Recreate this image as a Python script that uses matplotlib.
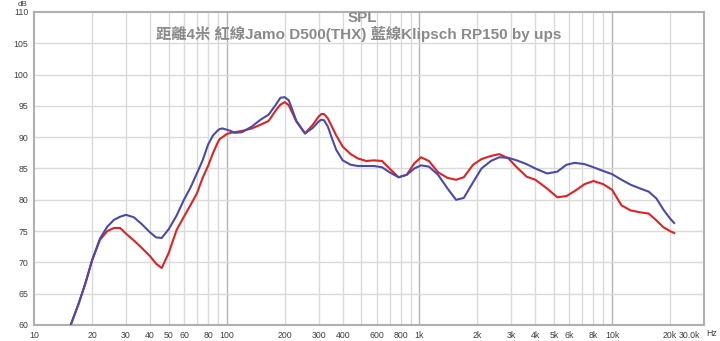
import matplotlib.pyplot as plt
import matplotlib.transforms as mtransforms

# frequency points (Hz)
freq = [15.5, 17, 18.5, 20, 22, 24, 26, 28, 30, 33, 36, 40, 43, 46, 50, 55, 60, 65, 70, 75,
        80, 85, 90, 92, 95, 100, 105, 110, 120, 135, 150, 165, 180, 190, 200, 210, 230, 255,
        280, 300, 310, 320, 335, 350, 370, 400, 440, 480, 530, 580, 640, 700, 780, 860, 940,
        1020, 1120, 1250, 1400, 1550, 1700, 1900, 2100, 2350, 2600, 2900, 3200, 3600, 4000,
        4600, 5200, 5800, 6400, 7200, 8000, 9000, 10000, 11200, 12500, 14000, 15500, 17000,
        18500, 20000, 21000]

# blue line: Klipsch RP150
klipsch = [60.0, 63.3, 66.7, 70.3, 73.8, 75.7, 76.8, 77.3, 77.6, 77.2, 76.2, 74.8, 74.0, 73.9,
           75.3, 77.5, 80.0, 82.0, 84.2, 86.3, 88.8, 90.3, 91.1, 91.3, 91.4, 91.2, 91.0, 90.7,
           90.8, 91.7, 92.8, 93.6, 95.2, 96.3, 96.4, 95.9, 92.6, 90.6, 91.5, 92.5, 92.8, 92.7,
           91.7, 90.0, 88.0, 86.3, 85.6, 85.4, 85.4, 85.4, 85.2, 84.4, 83.6, 84.0, 85.0, 85.5,
           85.3, 84.0, 81.8, 80.0, 80.3, 82.8, 85.0, 86.2, 86.8, 86.7, 86.3, 85.7, 85.0, 84.2,
           84.5, 85.6, 85.9, 85.7, 85.2, 84.6, 84.1, 83.2, 82.4, 81.8, 81.3, 80.2, 78.4, 77.0,
           76.3]

# red line: Jamo D500 (THX)
jamo = [60.0, 63.3, 66.7, 70.3, 73.6, 75.0, 75.5, 75.5, 74.6, 73.5, 72.4, 71.0, 69.8, 69.1,
        71.5, 75.2, 77.3, 79.2, 81.0, 83.5, 85.4, 87.5, 89.2, 89.7, 90.0, 90.5, 90.7, 90.8,
        91.0, 91.4, 92.0, 92.6, 94.3, 95.2, 95.6, 95.1, 92.5, 90.6, 92.0, 93.3, 93.7, 93.7,
        93.0, 91.8, 90.3, 88.5, 87.3, 86.6, 86.2, 86.3, 86.2, 85.0, 83.6, 84.0, 85.8, 86.8,
        86.2, 84.4, 83.5, 83.2, 83.6, 85.6, 86.5, 87.0, 87.3, 86.6, 85.2, 83.7, 83.2, 81.8,
        80.4, 80.6, 81.4, 82.5, 83.0, 82.5, 81.6, 79.1, 78.3, 78.0, 77.8, 76.7, 75.6, 75.0,
        74.7]

tick_freqs = [10, 20, 30, 40, 50, 60, 80, 100, 200, 300, 400, 600, 800, 1000, 2000, 3000,
              4000, 5000, 6000, 8000, 10000, 20000, 30000]
tick_labels = ['10', '20', '30', '40', '50', '60', '80', '100', '200', '300', '400', '600',
               '800', '1k', '2k', '3k', '4k', '5k', '6k', '8k', '10k', '20k', '30.0k']
db_ticks = [60, 65, 70, 75, 80, 85, 90, 95, 100, 105, 110]

plt.rcParams['font.family'] = ['Liberation Sans', 'Noto Sans CJK TC', 'DejaVu Sans']

fig = plt.figure(figsize=(7.2, 3.41), dpi=100)
ax = fig.add_axes([34 / 720, 16 / 341, 670 / 720, 313 / 341])
ax.set_xscale('log')
ax.set_xlim(10, 30000)
ax.set_ylim(60, 110)

# grid
for d in [10, 100, 1000, 10000]:
    for m in range(1, 10):
        f = d * m
        if f <= 10 or f >= 30000:
            continue
        c = '#b4b4b4' if m == 1 else '#dadada'
        ax.axvline(f, color=c, lw=1.0, zorder=0)
for y in db_ticks[1:-1]:
    ax.axhline(y, color='#dadada', lw=1.0, zorder=0)

ax.plot(freq, klipsch, color='#4a4aae', lw=1.5, zorder=3, solid_joinstyle='round')
ax.plot(freq, jamo, color='#e02222', lw=1.5, zorder=2, solid_joinstyle='round')

ax.set_xticks(tick_freqs, tick_labels)
ax.set_xticks([], minor=True)
ax.set_yticks(db_ticks, [str(v) for v in db_ticks])
ax.tick_params(length=0, labelsize=6.3, labelcolor='#404040', pad=4)
xl = ax.get_xticklabels()
xl[-1].set_transform(xl[-1].get_transform() +
                     mtransforms.ScaledTranslation(-15 / 100, 0, fig.dpi_scale_trans))

for s in ax.spines.values():
    s.set_color('#b0b0b0')
    s.set_linewidth(1.5)

fig.text(22 / 720, 1 - 4 / 341, 'dB', fontsize=5.8, color='#404040', ha='center', va='center')
fig.text(712 / 720, 1 - 334 / 341, 'Hz', fontsize=6.3, color='#404040', ha='center', va='center')

fig.text(362 / 720, 1 - 18.5 / 341, 'SPL', fontsize=11, color='#8a8a8a', fontweight='bold',
         ha='center', va='center')
fig.text(359 / 720, 1 - 34 / 341, '距離4米 紅線Jamo D500(THX) 藍線Klipsch RP150 by ups',
         fontsize=11, color='#8a8a8a', fontweight='bold', ha='center', va='center')

fig.savefig('out.png', dpi=100)
